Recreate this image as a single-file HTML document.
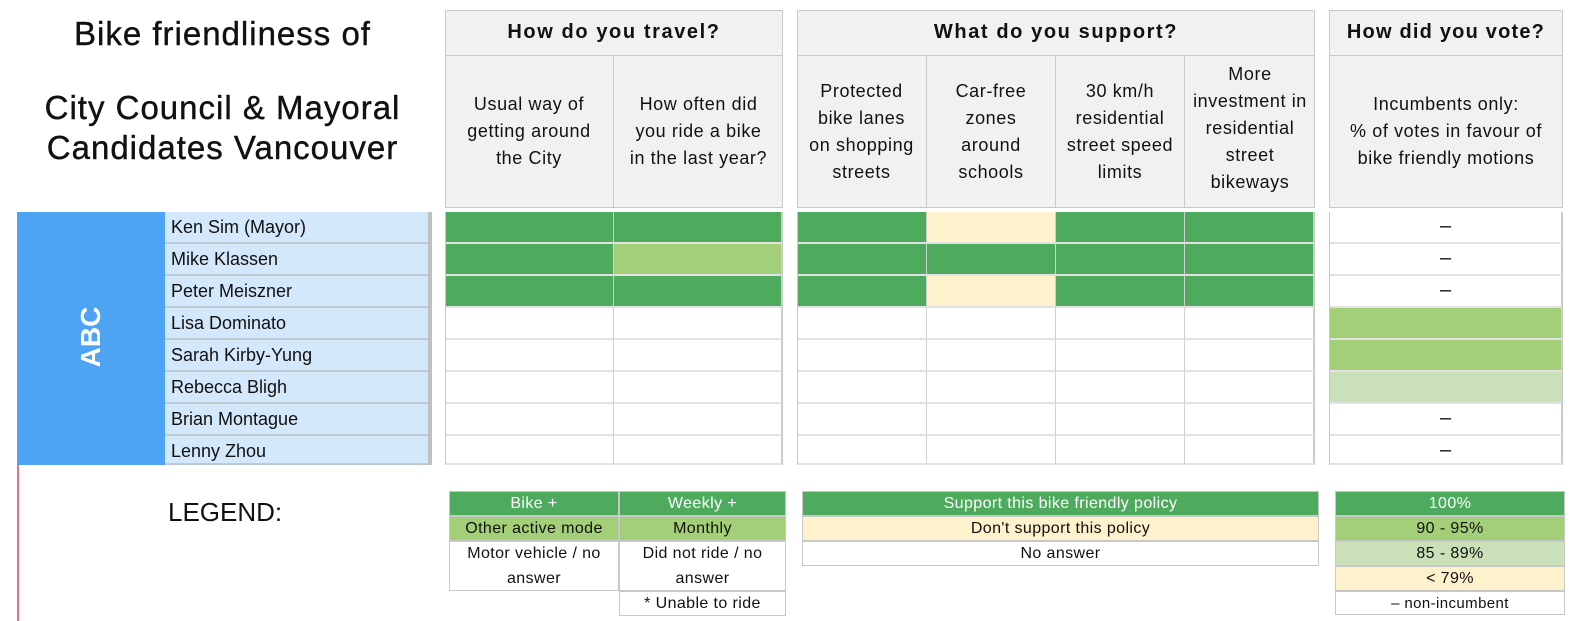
<!DOCTYPE html>
<html><head><meta charset="utf-8"><style>
body{margin:0;width:1569px;height:621px;background:#fff;position:relative;overflow:hidden;font-family:"Liberation Sans",sans-serif;color:#111}
.a{position:absolute;box-sizing:border-box}
.t{text-align:center}
.hd{background:#f1f1f1;border:1px solid #c8c8c8}
.ht{font-weight:bold;font-size:20px;display:flex;align-items:center;justify-content:center;letter-spacing:1.6px}
.sub{font-size:18px;letter-spacing:0.6px;display:flex;align-items:center;justify-content:center;text-align:center;line-height:27px;border-right:1px solid #c8c8c8;white-space:nowrap}
.c{border-right:1px solid #d0d0d0;border-bottom:2px solid #e2e2e2}
.D{background:#4eab5e}.L{background:#a2cf77}.P{background:#c9e0b9}.Y{background:#fdf2cc}.W{background:#fff}
.lg{font-size:16px;letter-spacing:0.4px;display:flex;align-items:center;justify-content:center;text-align:center;border:1px solid #c8c8c8;line-height:25px}
.tt{font-size:33px;line-height:40px;letter-spacing:1px;-webkit-text-stroke:0.4px #111}
</style></head><body>
<div class="a t tt" style="left:10px;top:14px;width:425px">Bike friendliness of</div>
<div class="a t tt" style="left:10px;top:88px;width:425px">City Council &amp; Mayoral<br>Candidates Vancouver</div>

<div class="a hd" style="left:445px;top:10px;width:338px;height:198px"></div>
<div class="a ht" style="left:445px;top:10px;width:338px;height:46px;border-bottom:1px solid #c8c8c8">How do you travel?</div>
<div class="a sub" style="left:445px;top:56px;width:169px;height:151px">Usual way of<br>getting around<br>the City</div>
<div class="a sub" style="left:614px;top:56px;width:169px;height:151px;border:0">How often did<br>you ride a bike<br>in the last year?</div>

<div class="a hd" style="left:797px;top:10px;width:518px;height:198px"></div>
<div class="a ht" style="left:797px;top:10px;width:518px;height:46px;border-bottom:1px solid #c8c8c8">What do you support?</div>
<div class="a sub" style="left:797px;top:56px;width:130px;height:151px">Protected<br>bike lanes<br>on shopping<br>streets</div>
<div class="a sub" style="left:927px;top:56px;width:129px;height:151px">Car-free<br>zones<br>around<br>schools</div>
<div class="a sub" style="left:1056px;top:56px;width:129px;height:151px">30 km/h<br>residential<br>street speed<br>limits</div>
<div class="a sub" style="left:1185px;top:50px;width:130px;height:157px;border:0">More<br>investment in<br>residential<br>street<br>bikeways</div>

<div class="a hd" style="left:1329px;top:10px;width:234px;height:198px"></div>
<div class="a ht" style="left:1329px;top:10px;width:234px;height:46px;border-bottom:1px solid #c8c8c8;letter-spacing:1.2px">How did you vote?</div>
<div class="a sub" style="left:1329px;top:56px;width:234px;height:151px;border:0">Incumbents only:<br>% of votes in favour of<br>bike friendly motions</div>

<div class="a" style="left:17px;top:212px;width:148px;height:253px;background:#4ea3f3"></div>
<div class="a" style="left:17px;top:465px;width:2px;height:156px;background:#e07090"></div>
<div class="a" style="left:55px;top:322px;width:72px;height:30px;color:#fff;font-size:28px;font-weight:bold;transform:rotate(-90deg);text-align:center;line-height:30px">ABC</div>
<div class="a" style="left:428px;top:212px;width:4px;height:253px;background:#bfbfbf"></div>
<div class="a" style="left:445px;top:212px;width:338px;height:253px;border:1px solid #c8c8c8;border-top:0"></div>
<div class="a" style="left:797px;top:212px;width:518px;height:253px;border:1px solid #c8c8c8;border-top:0"></div>
<div class="a" style="left:1329px;top:212px;width:234px;height:253px;border:1px solid #c8c8c8;border-top:0"></div>
<div id="rows"></div>
<script>
var names=["Ken Sim (Mayor)","Mike Klassen","Peter Meiszner","Lisa Dominato","Sarah Kirby-Yung","Rebecca Bligh","Brian Montague","Lenny Zhou"];
var g=[["D","D","D","Y","D","D","-"],["D","L","D","D","D","D","-"],["D","D","D","Y","D","D","-"],["W","W","W","W","W","W","L"],["W","W","W","W","W","W","L"],["W","W","W","W","W","W","P"],["W","W","W","W","W","W","-"],["W","W","W","W","W","W","-"]];
var cols=[[446,168],[614,168],[798,129],[927,129],[1056,129],[1185,129],[1330,232]];
var h="";
for(var i=0;i<8;i++){var y=212+i*32,hh=(i==7?29:32);
h+='<div class="a" style="left:165px;top:'+y+'px;width:263px;height:'+hh+'px;background:#d3e8fb;border-bottom:2px solid #c0c8d0;font-size:18px;line-height:31px;padding-left:6px">'+names[i]+'</div>';
for(var j=0;j<7;j++){var v=g[i][j];var cl=v=="-"?"W":v;
h+='<div class="a c '+cl+'" style="left:'+cols[j][0]+'px;top:'+y+'px;width:'+cols[j][1]+'px;height:'+hh+'px;font-size:20px;text-align:center;line-height:28px">'+(v=="-"?"–":"")+'</div>';}}
document.getElementById("rows").innerHTML=h;
</script>

<div class="a" style="left:168px;top:497px;font-size:26px">LEGEND:</div>
<div class="a lg D" style="left:449px;top:491px;width:170px;height:25px;color:#fff">Bike +</div>
<div class="a lg D" style="left:619px;top:491px;width:167px;height:25px;color:#fff">Weekly +</div>
<div class="a lg L" style="left:449px;top:516px;width:170px;height:25px">Other active mode</div>
<div class="a lg L" style="left:619px;top:516px;width:167px;height:25px">Monthly</div>
<div class="a lg W" style="left:449px;top:541px;width:170px;height:50px">Motor vehicle / no<br>answer</div>
<div class="a lg W" style="left:619px;top:541px;width:167px;height:50px">Did not ride / no<br>answer</div>
<div class="a lg W" style="left:619px;top:591px;width:167px;height:25px">* Unable to ride</div>

<div class="a lg D" style="left:802px;top:491px;width:517px;height:25px;color:#fff">Support this bike friendly policy</div>
<div class="a lg Y" style="left:802px;top:516px;width:517px;height:25px">Don't support this policy</div>
<div class="a lg W" style="left:802px;top:541px;width:517px;height:25px">No answer</div>

<div class="a lg D" style="left:1335px;top:491px;width:230px;height:25px;color:#fff">100%</div>
<div class="a lg L" style="left:1335px;top:516px;width:230px;height:25px">90 - 95%</div>
<div class="a lg P" style="left:1335px;top:541px;width:230px;height:25px">85 - 89%</div>
<div class="a lg Y" style="left:1335px;top:566px;width:230px;height:25px">&lt; 79%</div>
<div class="a lg W" style="left:1335px;top:591px;width:230px;height:24px;font-size:15px">– non-incumbent</div>
</body></html>
